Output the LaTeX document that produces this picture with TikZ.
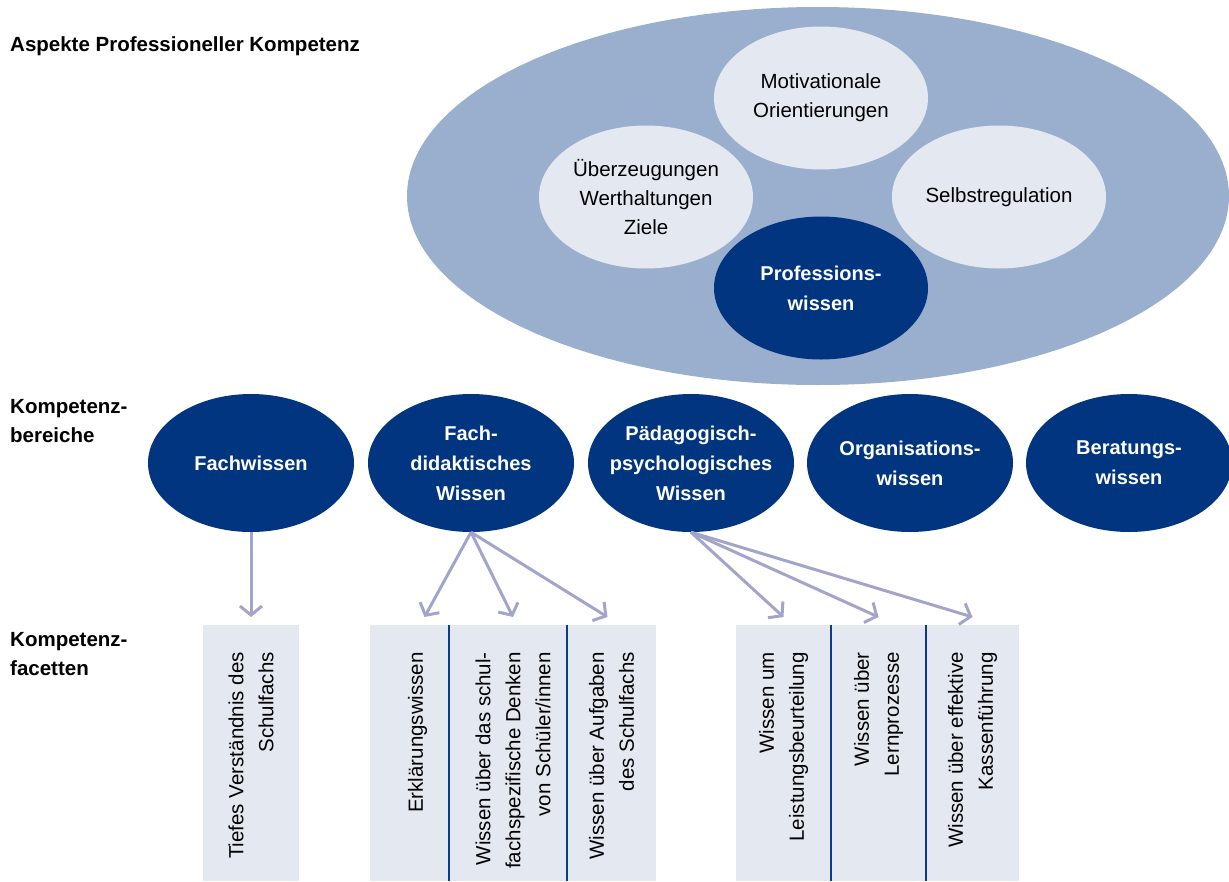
\documentclass[tikz,border=0pt]{standalone}
\usepackage{fontspec}
\setmainfont{Liberation Sans}
\usetikzlibrary{shapes.geometric,arrows.meta}
\definecolor{outerblue}{HTML}{9AAFCD}
\definecolor{paleblue}{HTML}{E4E9F1}
\definecolor{navy}{HTML}{02357F}
\definecolor{arrowlila}{HTML}{A3A4CC}
\definecolor{cellgray}{HTML}{E4E8F0}
\definecolor{divblue}{HTML}{0B3C87}

\begin{document}
\begin{tikzpicture}[x=1pt, y=-1pt,
    aspekt/.style={ellipse, fill=paleblue, minimum width=214pt, minimum height=143pt,
        inner sep=-25pt, align=center, font=\fontsize{20.5}{29}\selectfont},
    bereich/.style={ellipse, fill=navy, text=white, minimum width=206pt, minimum height=138pt,
        inner sep=-25pt, align=center, font=\bfseries\fontsize{20}{30}\selectfont},
    ebene/.style={anchor=west, inner sep=0pt, align=left, font=\bfseries\fontsize{20.5}{29}\selectfont},
    zelle/.style={rectangle, fill=cellgray, anchor=north, minimum height=256pt, inner sep=0pt},
    facette/.style={rotate=90, anchor=east, inner sep=0pt, align=right, font=\fontsize{20.5}{30}\selectfont},
    trenner/.style={draw=divblue, line width=2pt},
    pfeil/.style={draw=arrowlila, line width=3pt, -{Straight Barb[length=9pt,width=22pt]}}]

\useasboundingbox (0,0) rectangle (1229,881);

% aspekte
\node[ellipse, fill=outerblue, minimum width=822pt, minimum height=378pt] (kompetenz) at (818,196) {};
\node[aspekt] (motiv) at (821,98) {Motivationale\\Orientierungen};
\node[aspekt] (ueberz) at (646,197) {Überzeugungen\\Werthaltungen\\Ziele};
\node[aspekt] (selbst) at (999,197) {Selbstregulation};
\node[bereich, minimum width=214pt, minimum height=143pt] (profwissen) at (821,288) {Professions-\\wissen};

% ebenen
\node[ebene] (aspekte) at (10,46) {Aspekte Professioneller Kompetenz};
\node[ebene] (bereiche) at (10,421) {Kompetenz-\\bereiche};
\node[ebene] (facetten) at (10,654) {Kompetenz-\\facetten};

% bereiche
\node[bereich] (fw) at (251,463) {Fachwissen};
\node[bereich] (fd) at (471,463) {Fach-\\didaktisches\\Wissen};
\node[bereich] (pp) at (691,463) {Pädagogisch-\\psychologisches\\Wissen};
\node[bereich] (ow) at (910,463) {Organisations-\\wissen};
\node[bereich] (bw) at (1129,463) {Beratungs-\\wissen};

% facetten
\node[zelle, minimum width=96pt] (tv) at (251,625) {};
\node[zelle, minimum width=79pt] (ew) at (409.5,625) {};
\node[zelle, minimum width=118pt] (sd) at (508,625) {};
\node[zelle, minimum width=89pt] (au) at (611.5,625) {};
\node[zelle, minimum width=95pt] (lb) at (783.5,625) {};
\node[zelle, minimum width=95pt] (lp) at (878.5,625) {};
\node[zelle, minimum width=93pt] (kf) at (972.5,625) {};

\node[facette] (tvtext) at ([yshift=-27pt]tv.north) {Tiefes Verständnis des\\Schulfachs};
\node[facette] (ewtext) at ([xshift=8pt,yshift=-27pt]ew.north) {Erklärungswissen};
\node[facette] (sdtext) at ([xshift=5pt,yshift=-27pt]sd.north) {Wissen über das schul-\\fachspezifische Denken\\von Schüler/innen};
\node[facette] (autext) at ([yshift=-27pt]au.north) {Wissen über Aufgaben\\des Schulfachs};
\node[facette] (lbtext) at ([yshift=-27pt]lb.north) {Wissen um\\Leistungsbeurteilung};
\node[facette] (lptext) at ([yshift=-27pt]lp.north) {Wissen über\\Lernprozesse};
\node[facette] (kftext) at ([yshift=-27pt]kf.north) {Wissen über effektive\\Kassenführung};

\draw[trenner] (ew.north east) -- (ew.south east);
\draw[trenner] (sd.north east) -- (sd.south east);
\draw[trenner] (lb.north east) -- (lb.south east);
\draw[trenner] (lp.north east) -- (lp.south east);

% pfeile
\draw[pfeil] (fw.south) -- ([yshift=8pt]tv.north);
\draw[pfeil] (fd.south) -- ([xshift=15pt,yshift=8pt]ew.north);
\draw[pfeil] (fd.south) -- ([xshift=5pt,yshift=8pt]sd.north);
\draw[pfeil] (fd.south) -- ([xshift=-4pt,yshift=8pt]au.north);
\draw[pfeil] (pp.south) -- ([yshift=8pt]lb.north);
\draw[pfeil] (pp.south) -- ([yshift=8pt]lp.north);
\draw[pfeil] (pp.south) -- ([yshift=8pt]kf.north);
\end{tikzpicture}
\end{document}
